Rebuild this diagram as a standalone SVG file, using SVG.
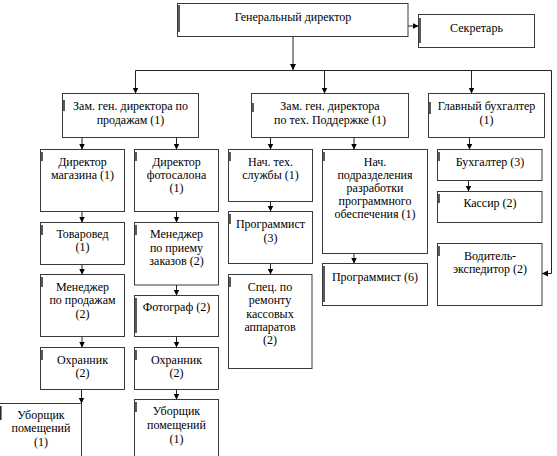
<svg xmlns="http://www.w3.org/2000/svg" width="557" height="456" viewBox="0 0 557 456">
<style>
.b{fill:#fff;stroke:#3a3a3a;stroke-width:1}
.mk{stroke:#000;stroke-width:1.3}
.t text{font-family:'Liberation Serif','Times New Roman','DejaVu Serif',serif;font-size:12px;fill:#000;text-anchor:middle}
.c{fill:none;stroke:#222;stroke-width:1}
</style>
<defs>
<marker id="a" markerUnits="userSpaceOnUse" markerWidth="7" markerHeight="7" refX="6" refY="3" orient="auto">
<path d="M0,0 L6,3 L0,6 z" fill="#000"/>
</marker>
</defs>
<rect width="557" height="456" fill="#fff"/>
<g id="connectors">
<path class="c" d="M293,36.5 V70" marker-end="url(#a)"/>
<path class="c" d="M135.5,70.5 H551.5 V273.5 H542" marker-end="url(#a)"/>
<path class="c" d="M135.5,70.5 V93.5" marker-end="url(#a)"/>
<path class="c" d="M324.5,70.5 V93.5" marker-end="url(#a)"/>
<path class="c" d="M471.5,70.5 V93.5" marker-end="url(#a)"/>
<path class="c" d="M408,26 H418.5" marker-end="url(#a)"/>
<path class="c" d="M82,137.5 V149.5" marker-end="url(#a)"/>
<path class="c" d="M176.5,137.5 V149.5" marker-end="url(#a)"/>
<path class="c" d="M270.5,137.5 V149.5" marker-end="url(#a)"/>
<path class="c" d="M354,137.5 V149.5" marker-end="url(#a)"/>
<path class="c" d="M469.5,137.5 V149.5" marker-end="url(#a)"/>
<path class="c" d="M468.5,180.5 V191.5" marker-end="url(#a)"/>
<path class="c" d="M82,211.5 V222.5" marker-end="url(#a)"/>
<path class="c" d="M82,264.5 V274.5" marker-end="url(#a)"/>
<path class="c" d="M82,336.5 V347.5" marker-end="url(#a)"/>
<path class="c" d="M81.5,389.5 V403.5" marker-end="url(#a)"/>
<path class="c" d="M176.5,211.5 V222.5" marker-end="url(#a)"/>
<path class="c" d="M176.5,285 V295.5" marker-end="url(#a)"/>
<path class="c" d="M176.5,336.5 V347.5" marker-end="url(#a)"/>
<path class="c" d="M176.5,389.5 V399.5" marker-end="url(#a)"/>
<path class="c" d="M270.5,201.5 V211.5" marker-end="url(#a)"/>
<path class="c" d="M270.5,263.5 V274.5" marker-end="url(#a)"/>
<path class="c" d="M354,253.5 V263.5" marker-end="url(#a)"/>
</g>
<g class="t" font-family="Liberation Serif, serif">
<g id="gendir"><rect class="b" x="177.5" y="3.5" width="230.5" height="33"/><line class="mk" x1="179" y1="5" x2="179" y2="32"/><text x="293" y="20.5">Генеральный директор</text></g>
<g id="secretary"><rect class="b" x="418.5" y="14.5" width="116" height="33"/><line class="mk" x1="420" y1="18" x2="420" y2="43"/><text x="476.5" y="31.5">Секретарь</text></g>
<g id="zam-sales"><rect class="b" x="62.5" y="93.5" width="136" height="44"/><line class="mk" x1="64" y1="100" x2="64" y2="111"/><text x="130.5" y="110">Зам. ген. директора по</text><text x="130.5" y="123.5">продажам (1)</text></g>
<g id="zam-tech"><rect class="b" x="251.5" y="93.5" width="157" height="44"/><line class="mk" x1="253" y1="103" x2="253" y2="112"/><text x="330" y="110">Зам. ген. директора</text><text x="330" y="123.5">по тех. Поддержке (1)</text></g>
<g id="chief-acc"><rect class="b" x="428.5" y="93.5" width="116" height="44"/><line class="mk" x1="430" y1="102" x2="430" y2="114"/><text x="486.5" y="110">Главный бухгалтер</text><text x="486.5" y="123.5">(1)</text></g>
<g id="shop-dir"><rect class="b" x="40.5" y="149.5" width="84" height="62"/><line class="mk" x1="42" y1="152" x2="42" y2="161"/><text x="82.5" y="165.5">Директор</text><text x="82.5" y="178.5">магазина (1)</text></g>
<g id="photo-dir"><rect class="b" x="134.5" y="149.5" width="84" height="62"/><line class="mk" x1="136" y1="152" x2="136" y2="161"/><text x="176.5" y="165.5">Директор</text><text x="176.5" y="179">фотосалона</text><text x="176.5" y="192">(1)</text></g>
<g id="tech-head"><rect class="b" x="228.5" y="149.5" width="84" height="52"/><line class="mk" x1="230" y1="152" x2="230" y2="161"/><text x="270.5" y="165.5">Нач. тех.</text><text x="270.5" y="178.5">службы (1)</text></g>
<g id="dev-head"><rect class="b" x="322.5" y="149.5" width="105" height="104"/><line class="mk" x1="324" y1="152" x2="324" y2="161"/><text x="375" y="165.5">Нач.</text><text x="375" y="179">подразделения</text><text x="375" y="192">разработки</text><text x="375" y="205">программного</text><text x="375" y="218">обеспечения (1)</text></g>
<g id="accountant"><rect class="b" x="437.5" y="149.5" width="104.5" height="31"/><line class="mk" x1="439" y1="152" x2="439" y2="161"/><text x="490" y="165.5">Бухгалтер (3)</text></g>
<g id="cashier"><rect class="b" x="437.5" y="191.5" width="104.5" height="31"/><line class="mk" x1="439" y1="194" x2="439" y2="203"/><text x="490" y="206.5">Кассир (2)</text></g>
<g id="driver"><rect class="b" x="437.5" y="243.5" width="104.5" height="62"/><line class="mk" x1="439" y1="246" x2="439" y2="256"/><text x="490" y="259.5">Водитель-</text><text x="490" y="272.5">экспедитор (2)</text></g>
<g id="merch"><rect class="b" x="40.5" y="222.5" width="84" height="42"/><line class="mk" x1="42" y1="225" x2="42" y2="235"/><text x="82.5" y="238">Товаровед</text><text x="82.5" y="251">(1)</text></g>
<g id="order-mgr"><rect class="b" x="134.5" y="222.5" width="84" height="62.5"/><line class="mk" x1="136" y1="225" x2="136" y2="235"/><text x="176.5" y="238">Менеджер</text><text x="176.5" y="251.5">по приему</text><text x="176.5" y="265">заказов (2)</text></g>
<g id="prog3"><rect class="b" x="228.5" y="211.5" width="84" height="52"/><line class="mk" x1="230" y1="214" x2="230" y2="224"/><text x="270.5" y="227.5">Программист</text><text x="270.5" y="241.5">(3)</text></g>
<g id="prog6"><rect class="b" x="322.5" y="263.5" width="105" height="42"/><line class="mk" x1="324" y1="266" x2="324" y2="302"/><text x="375" y="280.5">Программист (6)</text></g>
<g id="sales-mgr"><rect class="b" x="40.5" y="274.5" width="84" height="62"/><line class="mk" x1="42" y1="277" x2="42" y2="287"/><text x="82.5" y="290.5">Менеджер</text><text x="82.5" y="304">по продажам</text><text x="82.5" y="317.5">(2)</text></g>
<g id="photographer"><rect class="b" x="134.5" y="295.5" width="84" height="41"/><line class="mk" x1="136" y1="298" x2="136" y2="333"/><text x="176.5" y="311">Фотограф (2)</text></g>
<g id="repair"><rect class="b" x="228.5" y="274.5" width="83.5" height="94"/><line class="mk" x1="230" y1="277" x2="230" y2="287"/><text x="270" y="290.5">Спец. по</text><text x="270" y="304">ремонту</text><text x="270" y="317.5">кассовых</text><text x="270" y="330.5">аппаратов</text><text x="270" y="343.5">(2)</text></g>
<g id="guard1"><rect class="b" x="40.5" y="347.5" width="84" height="42"/><line class="mk" x1="42" y1="350" x2="42" y2="360"/><text x="82.5" y="364">Охранник</text><text x="82.5" y="377">(2)</text></g>
<g id="guard2"><rect class="b" x="134.5" y="347.5" width="84" height="42"/><line class="mk" x1="136" y1="350" x2="136" y2="360"/><text x="176.5" y="364">Охранник</text><text x="176.5" y="377">(2)</text></g>
<g id="cleaner1"><rect class="b" x="-1" y="403.5" width="82.5" height="60"/><line class="mk" x1="0.8" y1="406" x2="0.8" y2="420"/><text x="41" y="419">Уборщик</text><text x="41" y="432">помещений</text><text x="41" y="446">(1)</text></g>
<g id="cleaner2"><rect class="b" x="134.5" y="399.5" width="84" height="60"/><line class="mk" x1="136" y1="402" x2="136" y2="412"/><text x="176.5" y="415">Уборщик</text><text x="176.5" y="429">помещений</text><text x="176.5" y="443">(1)</text></g>
</g>
</svg>
